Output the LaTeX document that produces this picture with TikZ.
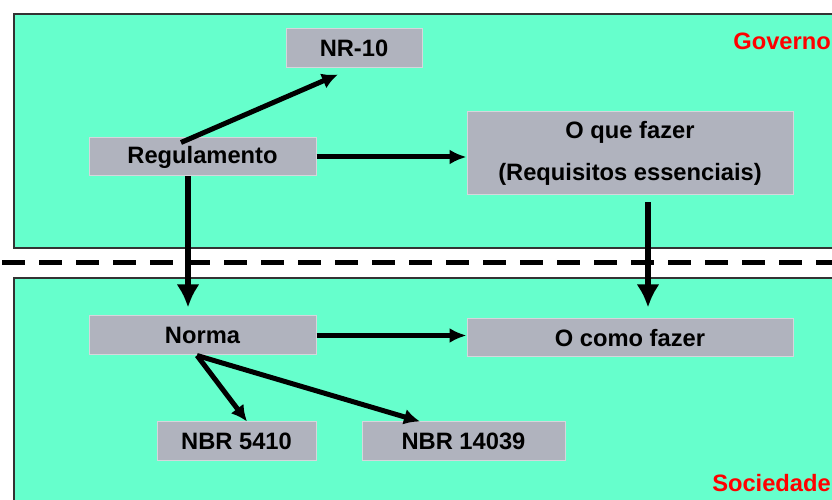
\documentclass[tikz,border=0pt]{standalone}
\usepackage{fontspec}
\setmainfont{Liberation Sans}
\usetikzlibrary{shapes,arrows.meta}
\definecolor{mint}{RGB}{102,255,204}
\definecolor{boxgray}{RGB}{176,179,190}
\definecolor{boxedge}{RGB}{214,214,220}
\definecolor{labelred}{RGB}{255,0,0}
\tikzstyle{panel} = [draw=black!80, line width=1.2pt, fill=mint]
\tikzstyle{block} = [rectangle, draw=boxedge, line width=1pt, fill=boxgray,
    inner sep=0pt, align=center, font=\fontsize{23.7}{42}\selectfont\bfseries]
\tikzstyle{side} = [text=labelred, inner sep=0pt, anchor=base east,
    font=\fontsize{23.7}{28}\selectfont\bfseries]
\tikzstyle{line} = [draw, line width=5pt, -{Latex[length=17pt,width=15pt]}]
\tikzstyle{vline} = [draw, line width=6.5pt, -{Latex[length=23pt,width=23pt]}]

\begin{document}
\begin{tikzpicture}[x=1pt, y=1pt, node distance=178.5pt]
    \useasboundingbox (0,0) rectangle (832,500);
    \clip (0,0) rectangle (832,500);
    % Panels
    \path [panel] (14,252) rectangle (845,486);
    \path [panel] (14,222) rectangle (845,-10);
    \draw [line width=5pt, dash pattern=on 23pt off 14pt] (2,237) -- (832,237);
    \node [side] (gov) at (831,450) {Governo};
    \node [side] (soc) at (831,8) {Sociedade};
    % Place nodes
    \node [block, minimum width=136pt, minimum height=39pt] (nr) at (354,452) {NR-10};
    \node [block, minimum width=227pt, minimum height=38pt] (reg) at (202.5,343) {Regulamento};
    \node [block, minimum width=326pt, minimum height=83pt] (what) at (630,346.5) {O que fazer\\(Requisitos essenciais)};
    \node [block, minimum width=227pt, minimum height=39pt, below of=reg] (norma) {Norma};
    \node [block, minimum width=326pt, minimum height=38pt, below of=what, node distance=184.5pt] (how) {O como fazer};
    \node [block, minimum width=159pt, minimum height=39pt] (nbra) at (236.5,58.5) {NBR 5410};
    \node [block, minimum width=203pt, minimum height=39pt] (nbrb) at (463.5,58.5) {NBR 14039};
    % Draw edges
    \path [line, -{Latex[length=16pt,width=16pt]}] ([xshift=-21.5pt,yshift=-5pt]reg.north) -- ([xshift=-16pt,yshift=-6.5pt]nr.south);
    \path [line] (reg.east) -- (reg.east -| what.west);
    \path [vline] ([xshift=-14.5pt]reg.south) -- ([xshift=-14.5pt,yshift=8pt]norma.north);
    \path [vline] ([xshift=18pt,yshift=-7pt]what.south) -- ([xshift=18pt,yshift=11pt]how.north);
    \path [line] (norma.east) -- (norma.east -| how.west);
    \path [line, -{Latex[length=16pt,width=16pt]}] ([xshift=-5.5pt]norma.south) -- ([xshift=10.5pt]nbra.north);
    \path [line, -{Latex[length=16pt,width=16pt]}] ([xshift=-5.5pt]norma.south) -- ([xshift=-43.5pt]nbrb.north);
\end{tikzpicture}
\end{document}
